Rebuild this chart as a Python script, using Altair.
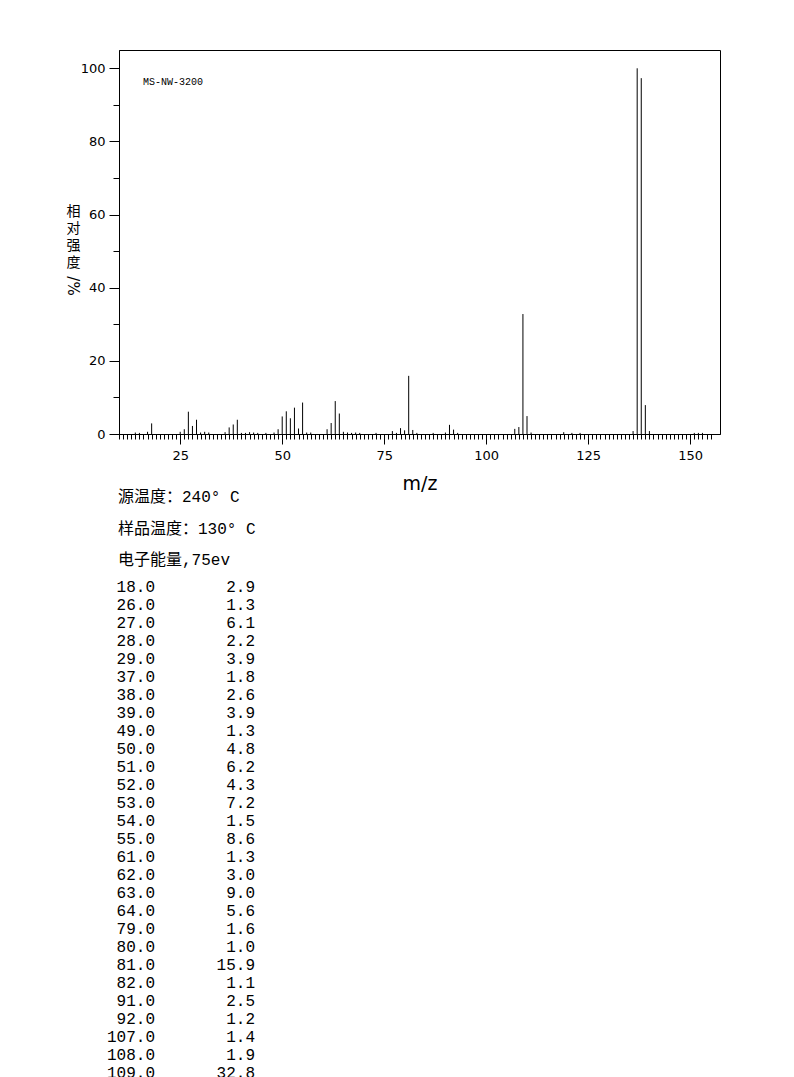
import altair as alt
import pandas as pd

# ---- data ----
mz = [14, 15, 17, 18, 25, 26, 27, 28, 29, 30, 31, 32, 36, 37, 38, 39, 40, 41, 42, 43,
      44, 46, 48, 49, 50, 51, 52, 53, 54, 55, 56, 57, 61, 62, 63, 64, 65, 66, 67, 68,
      69, 73, 77, 78, 79, 80, 81, 82, 83, 87, 90, 91, 92, 93, 107, 108, 109, 110, 111,
      119, 121, 123, 136, 137, 138, 139, 140, 151, 152, 153]
intensity = [0.4, 0.3, 0.6, 2.9, 0.6, 1.3, 6.1, 2.2, 3.9, 0.4, 0.6, 0.4, 0.5, 1.8, 2.6, 3.9,
             0.3, 0.3, 0.5, 0.4, 0.3, 0.3, 0.4, 1.3, 4.8, 6.2, 4.3, 7.2, 1.5, 8.6, 0.4, 0.4,
             1.3, 3.0, 9.0, 5.6, 0.6, 0.4, 0.3, 0.4, 0.3, 0.3, 0.8, 0.3, 1.6, 1.0, 15.9,
             1.1, 0.3, 0.3, 0.4, 2.5, 1.2, 0.3, 1.4, 1.9, 32.8, 4.9, 0.4, 0.5, 0.3, 0.3,
             0.8, 100.0, 97.3, 7.9, 0.8, 0.3, 0.3, 0.3]

x_major = [25, 50, 75, 100, 125, 150]
x_minor = list(range(10, 156))
y_major = [0, 20, 40, 60, 80, 100]
y_minor = [10, 30, 50, 70, 90]

instrument = "MS-NW-3200"
x_title = "m/z"
y_title_chars = ["相", "对", "强", "度"]
y_title_unit = "/%"
header_lines = ["源温度：240° C", "样品温度：130° C", "电子能量,75ev"]

spec = pd.DataFrame({"mz": mz, "intensity": intensity})
table = spec[spec["intensity"] >= 1.0]
mz_col = "\n".join(f"{v:.1f}" for v in table["mz"])
int_col = "\n".join(f"{v:.1f}" for v in table["intensity"])

x_scale = alt.Scale(domain=[10, 157.3], nice=False, zero=False)
y_scale = alt.Scale(domain=[0, 105], nice=False)

base = alt.Chart(spec)

bars = base.mark_rule(color="black", strokeWidth=1).encode(
    x=alt.X("mz:Q", scale=x_scale,
            axis=alt.Axis(values=x_major, tickSize=10, labelPadding=5, orient="bottom",
                          title=x_title, titleFont="DejaVu Sans", titleFontSize=19,
                          titleFontWeight="normal", titleY=55, titleBaseline="alphabetic")),
    y=alt.Y("intensity:Q", scale=y_scale,
            axis=alt.Axis(values=y_major, tickSize=10, labelPadding=4, orient="left",
                          title=y_title_chars, titleAngle=0, titleX=-46, titleY=154,
                          titleBaseline="top", titleAlign="center", titleLineHeight=17,
                          titleFont="Noto Sans CJK SC", titleFontSize=14,
                          titleFontWeight="normal")),
    y2=alt.datum(0),
)

minor = base.mark_rule(opacity=0).encode(
    x=alt.X("mz:Q", scale=x_scale,
            axis=alt.Axis(values=x_minor, tickSize=5, labels=False, domain=False,
                          title=None, orient="bottom")),
    y=alt.Y("intensity:Q", scale=y_scale,
            axis=alt.Axis(values=y_minor, tickSize=6, labels=False, domain=False,
                          title=None, orient="left")),
)

inst = alt.Chart(pd.DataFrame({"t": [instrument]})).mark_text(
    align="left", baseline="middle", font="Liberation Mono", fontSize=10, color="black"
).encode(x=alt.value(24), y=alt.value(32), text="t:N")

unit = alt.Chart(pd.DataFrame({"t": [y_title_unit]})).mark_text(
    angle=90, align="center", baseline="middle", font="DejaVu Sans", fontSize=15, color="black"
).encode(x=alt.value(-46), y=alt.value(236), text="t:N")

header = alt.Chart(pd.DataFrame({"t": ["\n".join(header_lines)]})).mark_text(
    lineBreak="\n", lineHeight=31.5, align="left", baseline="alphabetic",
    font="Liberation Mono, Noto Sans CJK SC", fontSize=16, color="black"
).encode(x=alt.value(-1), y=alt.value(452), text="t:N")

col1 = alt.Chart(pd.DataFrame({"t": [mz_col]})).mark_text(
    lineBreak="\n", lineHeight=18, align="right", baseline="alphabetic",
    font="Liberation Mono", fontSize=16, color="black"
).encode(x=alt.value(36), y=alt.value(542), text="t:N")

col2 = alt.Chart(pd.DataFrame({"t": [int_col]})).mark_text(
    lineBreak="\n", lineHeight=18, align="right", baseline="alphabetic",
    font="Liberation Mono", fontSize=16, color="black"
).encode(x=alt.value(136), y=alt.value(542), text="t:N")

chart = alt.layer(bars, minor, inst, unit, header, col1, col2).resolve_axis(
    x="independent", y="independent"
).properties(
    width=601, height=384,
    autosize=alt.AutoSizeParams(type="none"),
    padding={"left": 111, "top": 42, "right": 60, "bottom": 720},
    background="white",
).configure_view(
    stroke="black", strokeWidth=1
).configure_axis(
    grid=False, domainColor="black", tickColor="black", labelColor="black",
    titleColor="black", labelFont="DejaVu Sans", labelFontSize=13,
    domainWidth=1, tickWidth=1,
)

chart.save("out.html", embed_options={"renderer": "svg", "actions": False})
